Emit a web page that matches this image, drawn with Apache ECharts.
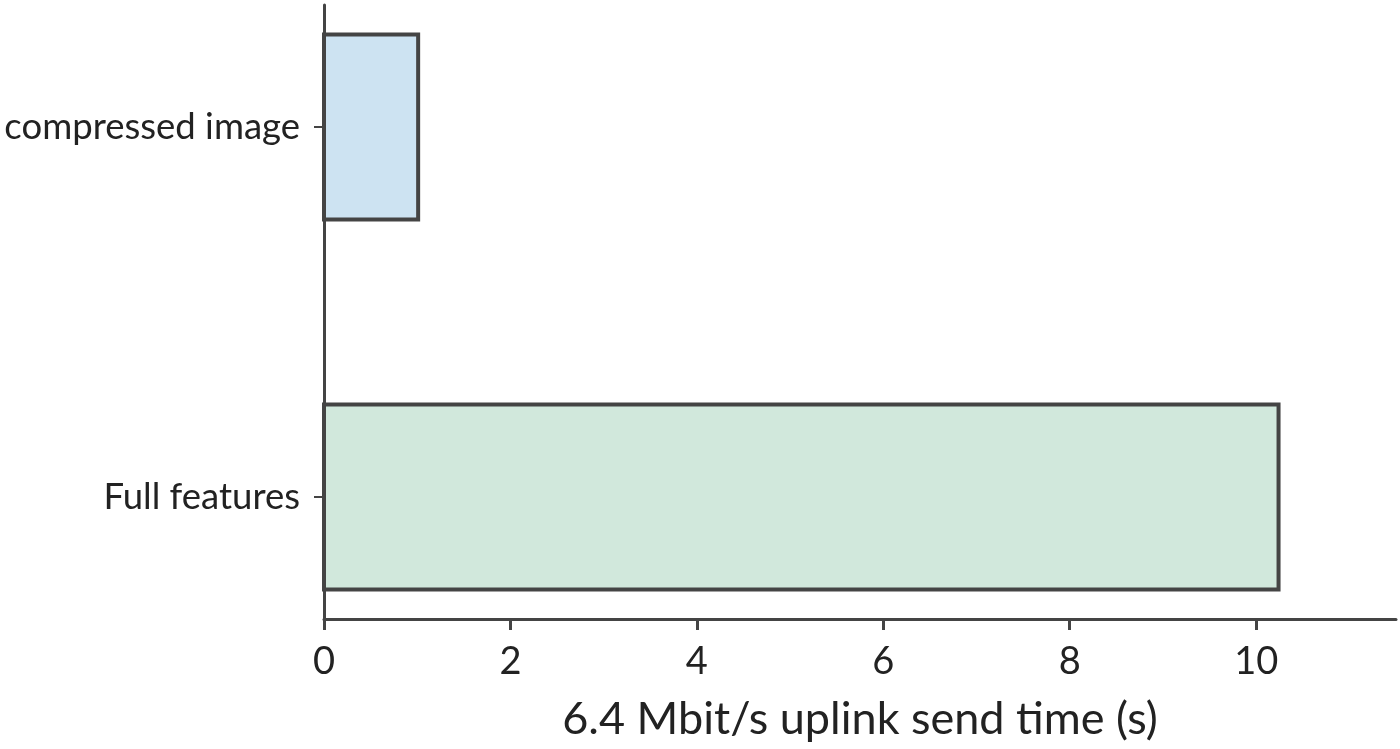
<!DOCTYPE html>
<html>
<head>
<meta charset="utf-8">
<script src="https://cdn.jsdelivr.net/npm/echarts@6/dist/echarts.min.js"></script>
<style>
  html, body { margin: 0; padding: 0; background: #fff; }
  #chart { width: 1400px; height: 749px; }
</style>
</head>
<body>
<div id="chart"></div>
<script>
var categories = ['Full features', 'compressed image'];
var sendTimes = [10.24, 1.01];
var barColors = ['#d1e8dc', '#cde3f2'];
var xTicks = [0, 2, 4, 6, 8, 10];

init();

function init(){

  var axisColor = '#444444';
  var fontFam = 'Lato';
  var barHeight = 0.5;

  var chart = echarts.init(document.getElementById('chart'));
  chart.setOption({
    animation: false,
    grid: {
      left: 324,
      right: 4,
      top: 5,
      bottom: 130
    },
    xAxis: {
      type: 'value',
      min: 0,
      max: 11.5,
      name: '6.4 Mbit/s uplink send time (s)',
      nameLocation: 'middle',
      nameGap: 78,
      nameTextStyle: {
        fontFamily: fontFam,
        fontSize: 45,
        color: '#222'
      },
      axisLine: {
        show: true,
        onZero: false,
        lineStyle: { color: axisColor, width: 3 }
      },
      axisTick: {
        show: true,
        length: 11,
        customValues: xTicks,
        lineStyle: { color: axisColor, width: 3 }
      },
      axisLabel: {
        customValues: xTicks,
        margin: 24,
        fontFamily: fontFam,
        fontSize: 38,
        color: '#222'
      },
      splitLine: { show: false }
    },
    yAxis: {
      type: 'value',
      min: -0.33,
      max: 1.33,
      axisLine: {
        show: true,
        onZero: false,
        lineStyle: { color: axisColor, width: 3 }
      },
      axisTick: {
        show: true,
        length: 10,
        customValues: [0, 1],
        lineStyle: { color: axisColor, width: 2 }
      },
      axisLabel: {
        customValues: [0, 1],
        margin: 24,
        fontFamily: fontFam,
        fontSize: 36.5,
        color: '#222',
        formatter: function (value) {
          return categories[Math.round(value)];
        }
      },
      splitLine: { show: false }
    },
    series: [
      {
        type: 'custom',
        encode: { x: 0, y: 1 },
        data: sendTimes.map(function (v, i) { return [v, i]; }),
        renderItem: function (params, api) {
          var idx = api.value(1);
          var p0 = api.coord([0, idx]);
          var p1 = api.coord([api.value(0), idx]);
          var h = api.size([0, barHeight])[1];
          return {
            type: 'rect',
            shape: { x: p0[0], y: p0[1] - h / 2, width: p1[0] - p0[0], height: h },
            style: { fill: barColors[idx], stroke: axisColor, lineWidth: 4 }
          };
        }
      }
    ]
  });
}
</script>
</body>
</html>
